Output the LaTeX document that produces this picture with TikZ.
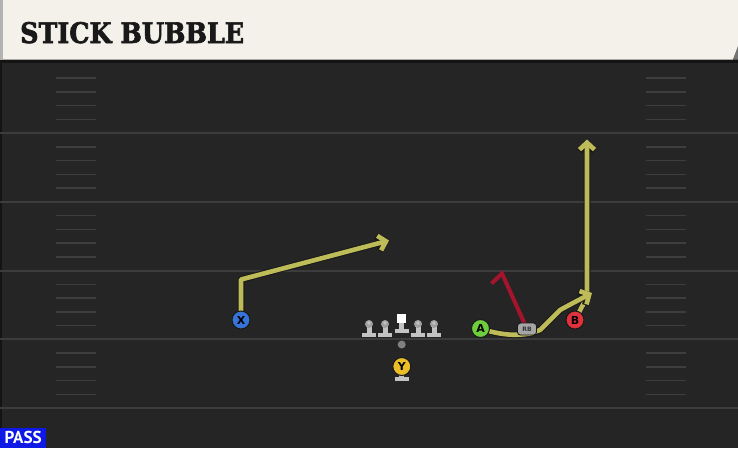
\documentclass[tikz,border=0pt]{standalone}
\usepackage{fontspec}
\usepackage{graphicx}
\usetikzlibrary{arrows.meta}
\newfontfamily\titlefont{DejaVu Serif}[FakeBold=2.5]
\newfontfamily\labelfont{DejaVu Sans}
\newfontfamily\passfont{PT Sans}
\definecolor{fieldbg}{RGB}{37,37,37}
\definecolor{yardcol}{RGB}{60,60,60}
\definecolor{hashcol}{RGB}{62,62,62}
\definecolor{titlebg}{RGB}{244,241,234}
\definecolor{routecol}{RGB}{190,188,88}
\definecolor{blockred}{RGB}{165,20,45}
\definecolor{xblue}{RGB}{55,115,215}
\definecolor{agreen}{RGB}{110,205,60}
\definecolor{bred}{RGB}{225,50,60}
\definecolor{yyellow}{RGB}{235,190,40}
\definecolor{rbgray}{RGB}{165,165,165}
\definecolor{lmgray}{RGB}{195,195,195}
\definecolor{lmhead}{RGB}{160,160,160}
\definecolor{passblue}{RGB}{15,25,230}
\pgfdeclarelayer{field}
\pgfdeclarelayer{routes}
\pgfsetlayers{field,routes,main}
\begin{document}
\begin{tikzpicture}[x=1pt,y=-1pt,
  player/.style={circle, draw=black!90, line width=1pt, minimum size=18pt, inner sep=0pt,
    font=\labelfont\bfseries\fontsize{11}{11}\selectfont, text=black},
  routeout/.style={line width=6.6pt, draw=black!90, line join=round, line cap=round},
  routein/.style={line width=4.6pt, draw=routecol, line join=round, line cap=round},
  tipout/.style={-{Straight Barb[length=7pt,width=15pt]}},
  lineman/.pic={
    \fill[lmgray] (-7,9) rectangle (7,13);
    \fill[lmgray] (-2.5,0) rectangle (2.5,9.5);
    \fill[lmhead] (0,0) circle (4);
    \fill[lmgray] (0,-1) circle (1.8);
  }]
\useasboundingbox (0,0) rectangle (738,448);
\begin{pgfonlayer}{field}
  \fill[fieldbg] (0,0) rectangle (738,448);
  \fill[black!45!fieldbg] (0,63) rectangle (2,448);
  \foreach \i in {1,...,5} {
    \draw[yardcol, line width=2pt] (0,{64.25+68.75*\i}) -- (738,{64.25+68.75*\i});
  }
  \foreach \i in {0,...,4} {
    \foreach \k in {1,...,4} {
      \draw[hashcol, line width=1.5pt] (56,{64.25+68.75*\i+13.75*\k}) -- (96,{64.25+68.75*\i+13.75*\k});
      \draw[hashcol, line width=1.5pt] (646,{64.25+68.75*\i+13.75*\k}) -- (686,{64.25+68.75*\i+13.75*\k});
    }
  }
  % title bar
  \fill[black!92] (0,59.5) rectangle (738,63);
  \fill[titlebg] (0,0) -- (738,0) -- (738,47) -- (733,59.5) -- (0,59.5) -- cycle;
  \fill[black!55] (738,46) -- (738,59.5) -- (733,59.5) -- cycle;
  \fill[black!30] (0,0) rectangle (3,59.5);
\end{pgfonlayer}

\node[anchor=base west, inner sep=0pt, text=black!90] (title) at (20,43)
  {\resizebox{224pt}{21pt}{\titlefont\bfseries STICK BUBBLE}};

\node[fill=passblue, anchor=south west, minimum width=46pt, minimum height=20pt, inner sep=0pt, text=white] (pass) at (0,448)
  {\resizebox{37pt}{12.3pt}{\passfont\bfseries PASS}};

% offensive line
\pic at (369,324) {lineman};
\pic at (385,324) {lineman};
\pic at (418,324) {lineman};
\pic at (434,324) {lineman};
\fill[lmgray] (394.5,328.5) rectangle (408.5,332.5);
\fill[lmgray] (399.2,321) rectangle (404.2,329);
\fill[white] (397,313.5) rectangle (406,322.5);
\node[circle, fill=black!50, minimum size=8pt, inner sep=0pt] (qb) at (401.7,344.5) {};

% Y with stand
\fill[lmgray] (399.3,373) rectangle (404.3,377);
\fill[lmgray] (395,376.5) rectangle (409,380.5);
\node[player, fill=yyellow] (Y) at (401.8,366.5) {Y};

\node[player, fill=xblue] (X) at (241,320) {X};
\node[player, fill=agreen] (A) at (480.5,328.5) {A};
\node[player, fill=bred] (B) at (575,320) {B};
\node[rounded corners=3pt, fill=rbgray, draw=black!90, line width=0.9pt, minimum width=19pt, minimum height=12pt, inner sep=0pt,
  font=\labelfont\bfseries\fontsize{6}{6}\selectfont, text=black!80] (rb) at (527,329) {RB};

\coordinate (xc) at (241,279.5);
\coordinate (xe) at (389,240.5);
\coordinate (bc) at (587,297);
\coordinate (be) at (587,139.5);
\coordinate (ae) at (592,293);
\coordinate (rt) at (502,273.5);
\coordinate (rh) at (491.5,283.5);

\begin{pgfonlayer}{routes}
  % X route
  \draw[routeout, tipout] (X.center) -- (xc) -- (xe);
  \draw[routein, tipout] (X.center) -- (xc) -- (xe);
  % B stick
  \draw[routeout, tipout] (B.center) -- (bc) -- (be);
  \draw[routein, tipout] (B.center) -- (bc) -- (be);
  % A bubble
  \draw[routeout, tipout] (A.center) .. controls (500,335) and (515,336) .. (530,333.5) -- (540,330) -- (549,321) -- (560,310) -- (573,303) -- (ae);
  \draw[routein, tipout] (A.center) .. controls (500,335) and (515,336) .. (530,333.5) -- (540,330) -- (549,321) -- (560,310) -- (573,303) -- (ae);
  % RB block
  \draw[blockred, line width=4pt, line join=miter] (rb.center) -- (rt) -- (rh);
\end{pgfonlayer}
\end{tikzpicture}
\end{document}
